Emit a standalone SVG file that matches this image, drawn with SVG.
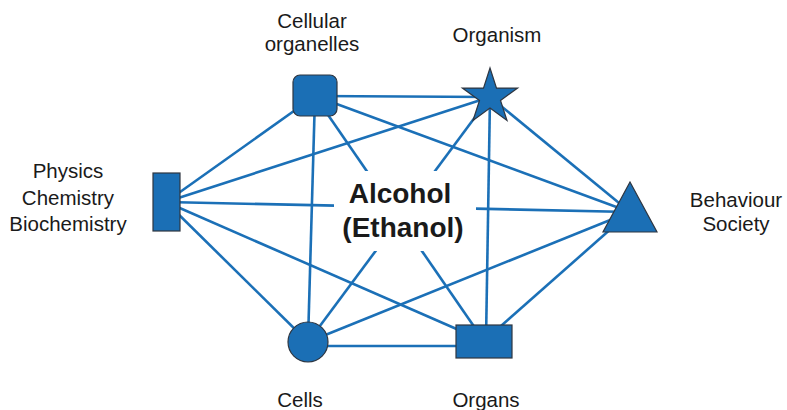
<svg xmlns="http://www.w3.org/2000/svg" width="787" height="410" viewBox="0 0 787 410">
<style>
.edge{stroke:#1b70b7;stroke-width:2.6;fill:none}
.node{fill:#1b6fb5;stroke:#2f3640;stroke-width:1.2}
.lbl{font-family:"Liberation Sans",Arial,sans-serif;font-size:20.5px;fill:#1a1a1a;text-anchor:middle}
.hub{font-family:"Liberation Sans",Arial,sans-serif;font-size:28px;font-weight:bold;fill:#1a1a1a;text-anchor:middle}
</style>
<rect width="787" height="410" fill="#ffffff"/>
<g id="connectors">
<line class="edge" x1="315" y1="96" x2="490" y2="97"/>
<line class="edge" x1="315" y1="96" x2="630" y2="212"/>
<line class="edge" x1="315" y1="96" x2="166" y2="202"/>
<line class="edge" x1="315" y1="96" x2="308" y2="342"/>
<line class="edge" x1="315" y1="96" x2="484" y2="341"/>
<line class="edge" x1="490" y1="97" x2="166" y2="202"/>
<line class="edge" x1="490" y1="97" x2="630" y2="212"/>
<line class="edge" x1="490" y1="97" x2="308" y2="342"/>
<line class="edge" x1="490" y1="97" x2="486" y2="341"/>
<line class="edge" x1="166" y1="202" x2="630" y2="212"/>
<line class="edge" x1="166" y1="202" x2="308" y2="342"/>
<line class="edge" x1="166" y1="202" x2="484" y2="341"/>
<line class="edge" x1="630" y1="212" x2="308" y2="342"/>
<line class="edge" x1="630" y1="212" x2="484" y2="341"/>
<line class="edge" x1="308" y1="346" x2="484" y2="346"/>
</g>
<g id="hub">
<rect x="334" y="171" width="142" height="80" fill="#ffffff"/>
<text class="hub" x="400" y="203">Alcohol</text>
<text class="hub" x="403" y="237">(Ethanol)</text>
</g>
<g id="cellular-organelles">
<rect class="node" x="293" y="75" width="44" height="41" rx="7"/>
<text class="lbl" x="312" y="28">Cellular</text>
<text class="lbl" x="312" y="51">organelles</text>
</g>
<g id="organism">
<polygon class="node" points="490,68 496.5,88.1 517.6,88 500.5,100.4 507,120.5 490,108 473,120.5 479.5,100.4 462.4,88 483.5,88.1"/>
<text class="lbl" x="497" y="42">Organism</text>
</g>
<g id="physics">
<rect class="node" x="153" y="173" width="27" height="58"/>
<text class="lbl" x="68" y="178">Physics</text>
<text class="lbl" x="68" y="205">Chemistry</text>
<text class="lbl" x="68" y="231">Biochemistry</text>
</g>
<g id="behaviour">
<polygon class="node" points="630,182 657,232 603,232"/>
<text class="lbl" x="736" y="207">Behaviour</text>
<text class="lbl" x="736" y="231">Society</text>
</g>
<g id="cells">
<circle class="node" cx="308" cy="342" r="20"/>
<text class="lbl" x="300" y="407">Cells</text>
</g>
<g id="organs">
<rect class="node" x="456" y="325" width="56" height="33"/>
<text class="lbl" x="486" y="407">Organs</text>
</g>
</svg>
